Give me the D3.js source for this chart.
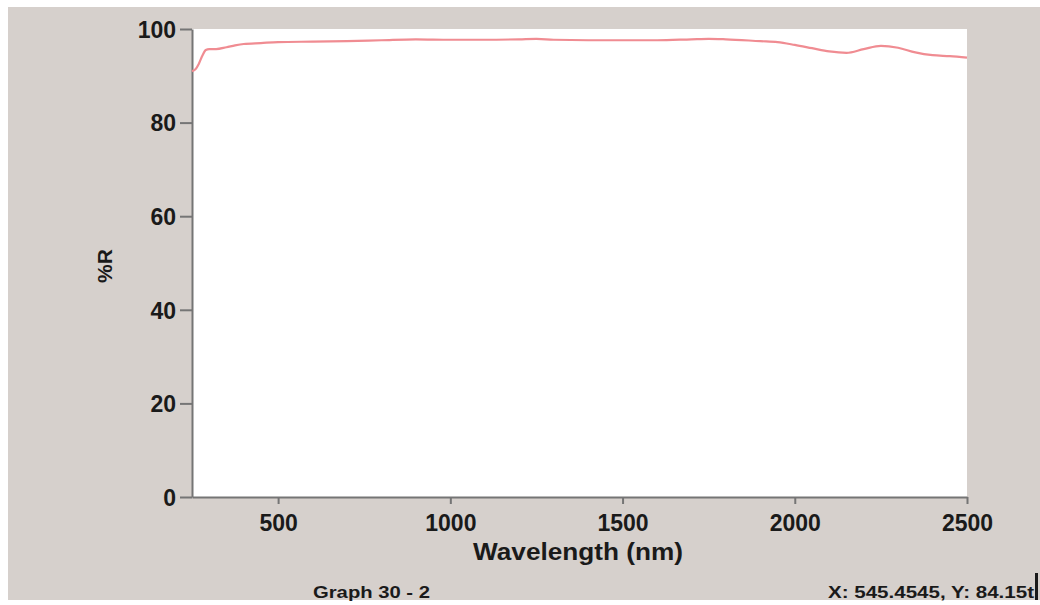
<!DOCTYPE html>
<html>
<head>
<meta charset="utf-8">
<script src="https://cdn.jsdelivr.net/npm/d3@7"></script>
<style>
  html, body { margin: 0; padding: 0; background: #ffffff; }
  svg { display: block; font-family: "Liberation Sans", Arial, sans-serif; font-weight: bold; }
</style>
</head>
<body>
<svg id="chart" width="1040" height="605"></svg>
<script>
// Reflectance spectrum
const wavelength = [250, 260, 270, 280, 290, 300, 320, 350, 375, 400, 450, 500, 600, 700, 800, 900,
  1000, 1100, 1200, 1250, 1300, 1400, 1500, 1600, 1700, 1750, 1800, 1900, 1950, 2000, 2050,
  2100, 2150, 2200, 2250, 2300, 2350, 2400, 2450, 2500];
const reflectance = [91.0, 91.4, 92.6, 94.3, 95.5, 95.7, 95.7, 96.1, 96.5, 96.8, 97.0, 97.2, 97.3, 97.4, 97.6, 97.8,
  97.7, 97.7, 97.8, 97.9, 97.7, 97.6, 97.6, 97.6, 97.8, 97.9, 97.8, 97.4, 97.2, 96.6, 95.9,
  95.2, 94.9, 95.7, 96.4, 96.0, 95.0, 94.4, 94.2, 93.9];

const xTicks = [500, 1000, 1500, 2000, 2500];
const yTicks = [0, 20, 40, 60, 80, 100];

const svg = d3.select('#chart');

// grey panel behind everything
svg.append('rect')
  .attr('x', 8).attr('y', 7)
  .attr('width', 1032).attr('height', 593)
  .attr('fill', '#d6d0cc');

const x = d3.scaleLinear().domain([250, 2500]).range([192, 967]);
const y = d3.scaleLinear().domain([0, 100]).range([497, 29]);

// plot area
svg.append('rect')
  .attr('x', x(250)).attr('y', y(100))
  .attr('width', x(2500) - x(250)).attr('height', y(0) - y(100))
  .attr('fill', '#ffffff');

const axisColor = '#757575';

const gx = svg.append('g')
  .attr('transform', `translate(0,${y(0)})`)
  .call(d3.axisBottom(x).tickValues(xTicks).tickFormat(d3.format('d'))
    .tickSize(7).tickSizeOuter(0).tickPadding(11));

const gy = svg.append('g')
  .attr('transform', `translate(${x(250)},0)`)
  .call(d3.axisLeft(y).tickValues(yTicks).tickFormat(d3.format('d'))
    .tickSize(12).tickSizeOuter(0).tickPadding(4));

[gx, gy].forEach(g => {
  g.select('.domain').attr('stroke', axisColor).attr('stroke-width', 2);
  g.selectAll('.tick line').attr('stroke', axisColor).attr('stroke-width', 2);
  g.selectAll('.tick text')
    .attr('fill', '#1a1a1a')
    .attr('font-size', 23)
    .attr('font-weight', 'bold')
    .attr('font-family', '"Liberation Sans", Arial, sans-serif');
});
gy.selectAll('.tick text').attr('dy', '0.36em');

// spectrum line
const line = d3.line()
  .x((d, i) => x(wavelength[i]))
  .y(d => y(d))
  .curve(d3.curveMonotoneX);

svg.append('path')
  .datum(reflectance)
  .attr('fill', 'none')
  .attr('stroke', '#f08c92')
  .attr('stroke-width', 2.2)
  .attr('d', line);

// titles
svg.append('text')
  .attr('x', 578).attr('y', 560)
  .attr('text-anchor', 'middle')
  .attr('font-size', 24)
  .attr('textLength', 210).attr('lengthAdjust', 'spacingAndGlyphs')
  .attr('fill', '#1a1a1a')
  .text('Wavelength (nm)');

svg.append('text')
  .attr('transform', 'translate(112,266) rotate(-90)')
  .attr('text-anchor', 'middle')
  .attr('font-size', 21)
  .attr('fill', '#1a1a1a')
  .text('%R');

svg.append('text')
  .attr('x', 313).attr('y', 598)
  .attr('font-size', 16)
  .attr('textLength', 117).attr('lengthAdjust', 'spacingAndGlyphs')
  .attr('fill', '#1a1a1a')
  .text('Graph 30 - 2');

svg.append('text')
  .attr('x', 828).attr('y', 598)
  .attr('font-size', 16)
  .attr('textLength', 206).attr('lengthAdjust', 'spacingAndGlyphs')
  .attr('fill', '#1a1a1a')
  .text('X: 545.4545, Y: 84.15t');

// text cursor bar at the far right
svg.append('rect')
  .attr('x', 1035).attr('y', 573)
  .attr('width', 3).attr('height', 27)
  .attr('fill', '#1a1a1a');
</script>
</body>
</html>
